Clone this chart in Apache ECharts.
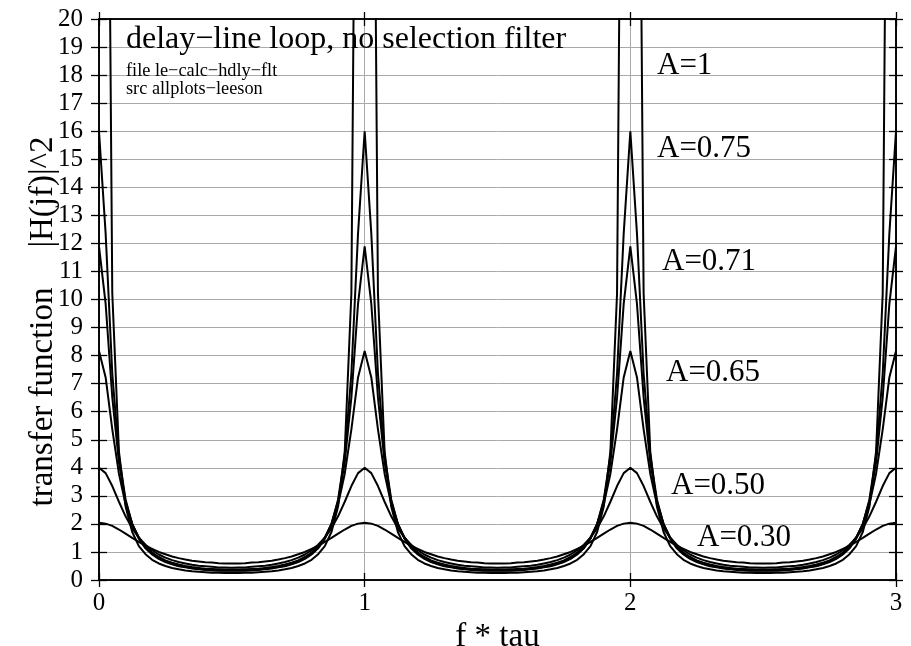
<!DOCTYPE html>
<html>
<head>
<meta charset="utf-8">
<script src="https://cdn.jsdelivr.net/npm/echarts@6/dist/echarts.min.js"></script>
<style>html,body{margin:0;padding:0;background:#fff}#c{width:911px;height:646px}</style>
</head>
<body>
<div id="c"></div>
<script>
// f * tau sample positions
const xs = [
  0, 0.025, 0.05, 0.075, 0.1, 0.125, 0.15, 0.175, 0.2, 0.225, 0.25, 0.275, 0.3, 0.325, 0.35, 0.375, 0.4, 0.425, 0.45, 0.475, 0.5, 0.525, 0.55, 0.575, 0.6, 0.625, 0.65, 0.675, 0.7, 0.725, 0.75, 0.775, 0.8, 0.825, 0.85, 0.875, 0.9, 0.925, 0.95, 0.975,
  1, 1.025, 1.05, 1.075, 1.1, 1.125, 1.15, 1.175, 1.2, 1.225, 1.25, 1.275, 1.3, 1.325, 1.35, 1.375, 1.4, 1.425, 1.45, 1.475, 1.5, 1.525, 1.55, 1.575, 1.6, 1.625, 1.65, 1.675, 1.7, 1.725, 1.75, 1.775, 1.8, 1.825, 1.85, 1.875, 1.9, 1.925, 1.95, 1.975,
  2, 2.025, 2.05, 2.075, 2.1, 2.125, 2.15, 2.175, 2.2, 2.225, 2.25, 2.275, 2.3, 2.325, 2.35, 2.375, 2.4, 2.425, 2.45, 2.475, 2.5, 2.525, 2.55, 2.575, 2.6, 2.625, 2.65, 2.675, 2.7, 2.725, 2.75, 2.775, 2.8, 2.825, 2.85, 2.875, 2.9, 2.925, 2.95, 2.975,
  3
];

const yA100 = [
  null, 40.61, 10.22, 4.59, 2.62, 1.71, 1.21, 0.92, 0.72, 0.59, 0.50, 0.43, 0.38, 0.34, 0.31, 0.29, 0.28, 0.26, 0.26, 0.25, 0.25, 0.25, 0.26, 0.26, 0.28, 0.29, 0.31, 0.34, 0.38, 0.43, 0.50, 0.59, 0.72, 0.92, 1.21, 1.71, 2.62, 4.59, 10.22, 40.61,
  null, 40.61, 10.22, 4.59, 2.62, 1.71, 1.21, 0.92, 0.72, 0.59, 0.50, 0.43, 0.38, 0.34, 0.31, 0.29, 0.28, 0.26, 0.26, 0.25, 0.25, 0.25, 0.26, 0.26, 0.28, 0.29, 0.31, 0.34, 0.38, 0.43, 0.50, 0.59, 0.72, 0.92, 1.21, 1.71, 2.62, 4.59, 10.22, 40.61,
  null, 40.61, 10.22, 4.59, 2.62, 1.71, 1.21, 0.92, 0.72, 0.59, 0.50, 0.43, 0.38, 0.34, 0.31, 0.29, 0.28, 0.26, 0.26, 0.25, 0.25, 0.25, 0.26, 0.26, 0.28, 0.29, 0.31, 0.34, 0.38, 0.43, 0.50, 0.59, 0.72, 0.92, 1.21, 1.71, 2.62, 4.59, 10.22, 40.61,
  null
];
const yA075 = [
  16.00, 12.35, 7.36, 4.43, 2.87, 1.99, 1.47, 1.13, 0.91, 0.75, 0.64, 0.56, 0.49, 0.45, 0.41, 0.38, 0.36, 0.34, 0.33, 0.33, 0.33, 0.33, 0.33, 0.34, 0.36, 0.38, 0.41, 0.45, 0.49, 0.56, 0.64, 0.75, 0.91, 1.13, 1.47, 1.99, 2.87, 4.43, 7.36, 12.35,
  16.00, 12.35, 7.36, 4.43, 2.87, 1.99, 1.47, 1.13, 0.91, 0.75, 0.64, 0.56, 0.49, 0.45, 0.41, 0.38, 0.36, 0.34, 0.33, 0.33, 0.33, 0.33, 0.33, 0.34, 0.36, 0.38, 0.41, 0.45, 0.49, 0.56, 0.64, 0.75, 0.91, 1.13, 1.47, 1.99, 2.87, 4.43, 7.36, 12.35,
  16.00, 12.35, 7.36, 4.43, 2.87, 1.99, 1.47, 1.13, 0.91, 0.75, 0.64, 0.56, 0.49, 0.45, 0.41, 0.38, 0.36, 0.34, 0.33, 0.33, 0.33, 0.33, 0.33, 0.34, 0.36, 0.38, 0.41, 0.45, 0.49, 0.56, 0.64, 0.75, 0.91, 1.13, 1.47, 1.99, 2.87, 4.43, 7.36, 12.35,
  16.00
];
const yA071 = [
  11.89, 9.84, 6.51, 4.19, 2.81, 2.00, 1.49, 1.16, 0.94, 0.78, 0.66, 0.58, 0.51, 0.47, 0.43, 0.40, 0.38, 0.36, 0.35, 0.34, 0.34, 0.34, 0.35, 0.36, 0.38, 0.40, 0.43, 0.47, 0.51, 0.58, 0.66, 0.78, 0.94, 1.16, 1.49, 2.00, 2.81, 4.19, 6.51, 9.84,
  11.89, 9.84, 6.51, 4.19, 2.81, 2.00, 1.49, 1.16, 0.94, 0.78, 0.66, 0.58, 0.51, 0.47, 0.43, 0.40, 0.38, 0.36, 0.35, 0.34, 0.34, 0.34, 0.35, 0.36, 0.38, 0.40, 0.43, 0.47, 0.51, 0.58, 0.66, 0.78, 0.94, 1.16, 1.49, 2.00, 2.81, 4.19, 6.51, 9.84,
  11.89, 9.84, 6.51, 4.19, 2.81, 2.00, 1.49, 1.16, 0.94, 0.78, 0.66, 0.58, 0.51, 0.47, 0.43, 0.40, 0.38, 0.36, 0.35, 0.34, 0.34, 0.34, 0.35, 0.36, 0.38, 0.40, 0.43, 0.47, 0.51, 0.58, 0.66, 0.78, 0.94, 1.16, 1.49, 2.00, 2.81, 4.19, 6.51, 9.84,
  11.89
];
const yA065 = [
  8.16, 7.22, 5.37, 3.79, 2.70, 1.99, 1.52, 1.20, 0.98, 0.82, 0.70, 0.62, 0.55, 0.50, 0.46, 0.43, 0.40, 0.39, 0.38, 0.37, 0.37, 0.37, 0.38, 0.39, 0.40, 0.43, 0.46, 0.50, 0.55, 0.62, 0.70, 0.82, 0.98, 1.20, 1.52, 1.99, 2.70, 3.79, 5.37, 7.22,
  8.16, 7.22, 5.37, 3.79, 2.70, 1.99, 1.52, 1.20, 0.98, 0.82, 0.70, 0.62, 0.55, 0.50, 0.46, 0.43, 0.40, 0.39, 0.38, 0.37, 0.37, 0.37, 0.38, 0.39, 0.40, 0.43, 0.46, 0.50, 0.55, 0.62, 0.70, 0.82, 0.98, 1.20, 1.52, 1.99, 2.70, 3.79, 5.37, 7.22,
  8.16, 7.22, 5.37, 3.79, 2.70, 1.99, 1.52, 1.20, 0.98, 0.82, 0.70, 0.62, 0.55, 0.50, 0.46, 0.43, 0.40, 0.39, 0.38, 0.37, 0.37, 0.37, 0.38, 0.39, 0.40, 0.43, 0.46, 0.50, 0.55, 0.62, 0.70, 0.82, 0.98, 1.20, 1.52, 1.99, 2.70, 3.79, 5.37, 7.22,
  8.16
];
const yA050 = [
  4.00, 3.81, 3.35, 2.79, 2.27, 1.84, 1.51, 1.26, 1.06, 0.91, 0.80, 0.71, 0.64, 0.59, 0.54, 0.51, 0.49, 0.47, 0.45, 0.45, 0.44, 0.45, 0.45, 0.47, 0.49, 0.51, 0.54, 0.59, 0.64, 0.71, 0.80, 0.91, 1.06, 1.26, 1.51, 1.84, 2.27, 2.79, 3.35, 3.81,
  4.00, 3.81, 3.35, 2.79, 2.27, 1.84, 1.51, 1.26, 1.06, 0.91, 0.80, 0.71, 0.64, 0.59, 0.54, 0.51, 0.49, 0.47, 0.45, 0.45, 0.44, 0.45, 0.45, 0.47, 0.49, 0.51, 0.54, 0.59, 0.64, 0.71, 0.80, 0.91, 1.06, 1.26, 1.51, 1.84, 2.27, 2.79, 3.35, 3.81,
  4.00, 3.81, 3.35, 2.79, 2.27, 1.84, 1.51, 1.26, 1.06, 0.91, 0.80, 0.71, 0.64, 0.59, 0.54, 0.51, 0.49, 0.47, 0.45, 0.45, 0.44, 0.45, 0.45, 0.47, 0.49, 0.51, 0.54, 0.59, 0.64, 0.71, 0.80, 0.91, 1.06, 1.26, 1.51, 1.84, 2.27, 2.79, 3.35, 3.81,
  4.00
];
const yA030 = [
  2.04, 2.01, 1.93, 1.80, 1.65, 1.50, 1.36, 1.22, 1.11, 1.00, 0.92, 0.84, 0.78, 0.73, 0.69, 0.66, 0.63, 0.62, 0.60, 0.59, 0.59, 0.59, 0.60, 0.62, 0.63, 0.66, 0.69, 0.73, 0.78, 0.84, 0.92, 1.00, 1.11, 1.22, 1.36, 1.50, 1.65, 1.80, 1.93, 2.01,
  2.04, 2.01, 1.93, 1.80, 1.65, 1.50, 1.36, 1.22, 1.11, 1.00, 0.92, 0.84, 0.78, 0.73, 0.69, 0.66, 0.63, 0.62, 0.60, 0.59, 0.59, 0.59, 0.60, 0.62, 0.63, 0.66, 0.69, 0.73, 0.78, 0.84, 0.92, 1.00, 1.11, 1.22, 1.36, 1.50, 1.65, 1.80, 1.93, 2.01,
  2.04, 2.01, 1.93, 1.80, 1.65, 1.50, 1.36, 1.22, 1.11, 1.00, 0.92, 0.84, 0.78, 0.73, 0.69, 0.66, 0.63, 0.62, 0.60, 0.59, 0.59, 0.59, 0.60, 0.62, 0.63, 0.66, 0.69, 0.73, 0.78, 0.84, 0.92, 1.00, 1.11, 1.22, 1.36, 1.50, 1.65, 1.80, 1.93, 2.01,
  2.04
];

const seriesNames = ['A=1', 'A=0.75', 'A=0.71', 'A=0.65', 'A=0.50', 'A=0.30'];
const seriesValues = [yA100, yA075, yA071, yA065, yA050, yA030];

const titleText = 'delay\u2212line loop, no selection filter';
const subText = 'file le\u2212calc\u2212hdly\u2212flt\nsrc allplots\u2212leeson';
const xName = 'f * tau';
const yNameParts = ['transfer function', '|H(jf)|^2'];

const FONT = '"Liberation Serif", "Times New Roman", serif';
const chart = echarts.init(document.getElementById('c'), null, {renderer: 'canvas'});

const gridLine = {show: true, lineStyle: {color: '#aaaaaa', width: 1}};
const axLine = {show: true, onZero: false, lineStyle: {color: '#000', width: 1.6}};
function tick(inside, len) { return {show: true, inside: inside, length: len, lineStyle: {color: '#000', width: 1.3}}; }

const labelPos = [
  {x: 657, y: 65.5}, {x: 657, y: 148.5}, {x: 662, y: 261.5},
  {x: 666, y: 372.5}, {x: 671, y: 485.5}, {x: 697, y: 537.5}
];
const yNamePos = [{x: 43, y: 397}, {x: 43, y: 192}];

const option = {
  animation: false,
  backgroundColor: '#fff',
  title: {
    text: titleText, subtext: subText, left: 126, top: 25, padding: 0, itemGap: 5,
    textStyle: {fontFamily: FONT, fontSize: 32, fontWeight: 'normal', color: '#000', lineHeight: 30},
    subtextStyle: {fontFamily: FONT, fontSize: 18.3, color: '#000', lineHeight: 18}
  },
  grid: {left: 99, right: 15, top: 19, bottom: 66, outerBoundsMode: 'none', containLabel: false},
  xAxis: [
    {type: 'value', position: 'bottom', min: 0, max: 3, interval: 1,
     name: xName, nameLocation: 'middle', nameGap: 28,
     nameTextStyle: {fontFamily: FONT, fontSize: 33, color: '#000'},
     axisLine: axLine, axisTick: tick(false, 7),
     axisLabel: {fontFamily: FONT, fontSize: 25, color: '#000', margin: 11},
     splitLine: gridLine},
    {type: 'value', position: 'bottom', min: 0, max: 3, interval: 1,
     axisLine: axLine, axisTick: tick(true, 7), axisLabel: {show: false}, splitLine: {show: false}},
    {type: 'value', position: 'top', min: 0, max: 3, interval: 1,
     axisLine: axLine, axisTick: tick(false, 7), axisLabel: {show: false}, splitLine: {show: false}},
    {type: 'value', position: 'top', min: 0, max: 3, interval: 1,
     axisLine: axLine, axisTick: tick(true, 7), axisLabel: {show: false}, splitLine: {show: false}}
  ],
  yAxis: [
    {type: 'value', position: 'left', min: 0, max: 20, interval: 1,
     axisLine: axLine, axisTick: tick(false, 8),
     axisLabel: {fontFamily: FONT, fontSize: 25, color: '#000', margin: 16},
     splitLine: gridLine},
    {type: 'value', position: 'left', min: 0, max: 20, interval: 1,
     axisLine: axLine, axisTick: tick(true, 8), axisLabel: {show: false}, splitLine: {show: false}},
    {type: 'value', position: 'right', min: 0, max: 20, interval: 1,
     axisLine: axLine, axisTick: tick(false, 7), axisLabel: {show: false}, splitLine: {show: false}},
    {type: 'value', position: 'right', min: 0, max: 20, interval: 1,
     axisLine: axLine, axisTick: tick(true, 7), axisLabel: {show: false}, splitLine: {show: false}}
  ],
  series: seriesNames.map(function (name, i) {
    return {
      name: name, type: 'line', xAxisIndex: 0, yAxisIndex: 0,
      showSymbol: false, symbol: 'none', clip: true, silent: true,
      lineStyle: {color: '#000', width: 2},
      data: xs.map(function (x, j) { const v = seriesValues[i][j]; return [x, v === null ? '-' : v]; })
    };
  }),
  graphic: seriesNames.map(function (name, i) {
    return {type: 'text', x: labelPos[i].x, y: labelPos[i].y, z: 100,
      style: {text: name, fontFamily: FONT, fontSize: 31, fill: '#000', align: 'left', verticalAlign: 'middle'}};
  }).concat(yNameParts.map(function (t, i) {
    return {type: 'text', x: yNamePos[i].x, y: yNamePos[i].y, rotation: Math.PI / 2, z: 100,
      style: {text: t, fontFamily: FONT, fontSize: 33, fill: '#000', align: 'center', verticalAlign: 'middle'}};
  }))
};
chart.setOption(option);
</script>
</body>
</html>
